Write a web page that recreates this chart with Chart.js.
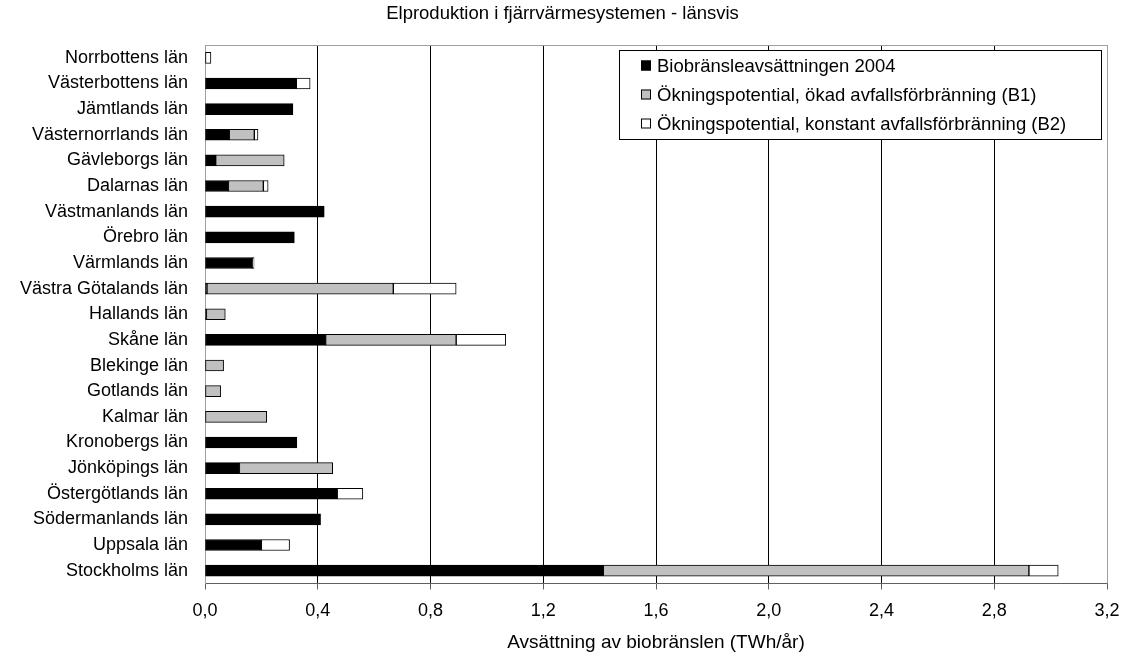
<!DOCTYPE html>
<html lang="sv">
  <head>
    <meta charset="UTF-8" />
    <title>Elproduktion i fjärrvärmesystemen - länsvis</title>
    <script src="https://cdn.jsdelivr.net/npm/chart.js"></script>
    <style>
      html, body { margin: 0; padding: 0; background: #fff; }
      #wrap { width: 1125px; height: 654px; }
    </style>
  </head>
  <body>
    <div id="wrap"><canvas id="elChart" width="1125" height="654"></canvas></div>

    <script>
      // Län, uppifrån och ned
      const lan = [
        "Norrbottens län", "Västerbottens län", "Jämtlands län", "Västernorrlands län",
        "Gävleborgs län", "Dalarnas län", "Västmanlands län", "Örebro län",
        "Värmlands län", "Västra Götalands län", "Hallands län", "Skåne län",
        "Blekinge län", "Gotlands län", "Kalmar län", "Kronobergs län",
        "Jönköpings län", "Östergötlands län", "Södermanlands län", "Uppsala län",
        "Stockholms län",
      ];

      // TWh/år
      const bio2004 = [0, 0.324, 0.312, 0.086, 0.038, 0.083, 0.423, 0.317, 0.168, 0.007, 0.005,
        0.428, 0, 0, 0, 0.326, 0.122, 0.469, 0.41, 0.2, 1.413];
      const okningB1 = [0, 0, 0, 0.089, 0.243, 0.124, 0, 0, 0, 0.661, 0.067,
        0.463, 0.066, 0.056, 0.219, 0, 0.331, 0, 0, 0, 1.51];
      const okningB2 = [0.021, 0.049, 0, 0.013, 0, 0.017, 0, 0, 0.006, 0.223, 0,
        0.176, 0, 0, 0, 0, 0, 0.091, 0, 0.1, 0.104];

      const serieNamn = [
        "Biobränsleavsättningen 2004",
        "Ökningspotential, ökad avfallsförbränning (B1)",
        "Ökningspotential, konstant avfallsförbränning (B2)",
      ];
      const xTickLabels = ["0,0", "0,4", "0,8", "1,2", "1,6", "2,0", "2,4", "2,8", "3,2"];

      const FONT = "'Liberation Sans', Arial, sans-serif";

      // ram runt ritytan + legend inne i diagrammet
      const ramOchLegend = {
        id: "ramOchLegend",
        beforeDatasetsDraw(chart) {
          const { ctx, chartArea: a } = chart;
          ctx.save();
          ctx.strokeStyle = "#a0a0a0";
          ctx.lineWidth = 1;
          ctx.beginPath();
          ctx.moveTo(a.left, a.top + 0.5);
          ctx.lineTo(a.right + 0.5, a.top + 0.5);
          ctx.lineTo(a.right + 0.5, a.bottom);
          ctx.stroke();
          ctx.restore();
        },
        afterDraw(chart) {
          const ctx = chart.ctx;
          ctx.save();
          ctx.fillStyle = "#fff";
          ctx.fillRect(619.5, 50.5, 482, 89);
          ctx.strokeStyle = "#000";
          ctx.lineWidth = 1;
          ctx.strokeRect(619.5, 50.5, 482, 89);
          ctx.font = "18.5px " + FONT;
          ctx.textBaseline = "middle";
          const rader = [65.5, 94.5, 123.5];
          chart.data.datasets.forEach((ds, i) => {
            ctx.fillStyle = ds.backgroundColor;
            ctx.fillRect(641, rader[i] - 5, 10, 10);
            ctx.strokeStyle = "#000";
            ctx.strokeRect(641.5, rader[i] - 4.5, 9, 9);
            ctx.fillStyle = "#000";
            ctx.fillText(ds.label, 657, rader[i] + 1);
          });
          ctx.restore();
        },
      };

      const ctx = document.getElementById("elChart").getContext("2d");
      const elChart = new Chart(ctx, {
        type: "bar",
        data: {
          labels: lan,
          datasets: [
            { label: serieNamn[0], data: bio2004, backgroundColor: "#000000" },
            { label: serieNamn[1], data: okningB1, backgroundColor: "#c0c0c0" },
            { label: serieNamn[2], data: okningB2, backgroundColor: "#ffffff" },
          ].map((d) => ({
            ...d,
            borderColor: "#000",
            borderWidth: 1,
            borderSkipped: false,
            barThickness: 11,
          })),
        },
        options: {
          indexAxis: "y",
          responsive: false,
          animation: false,
          layout: { padding: { top: 0, right: 18, bottom: 0, left: 18 } },
          plugins: {
            legend: { display: false },
            tooltip: { enabled: false },
            title: {
              display: true,
              text: "Elproduktion i fjärrvärmesystemen - länsvis",
              color: "#000",
              font: { family: FONT, size: 18.5, weight: "normal" },
              padding: { top: 3, bottom: 19.8 },
            },
          },
          scales: {
            x: {
              stacked: true,
              min: 0,
              max: 3.2,
              afterFit: (s) => {
                s.height = 70.5;
                s.paddingRight = 10;
                s.paddingLeft = 10;
              },
              ticks: {
                stepSize: 0.4,
                color: "#000",
                padding: 11,
                font: { family: FONT, size: 18 },
                callback: (v, i) => xTickLabels[i],
              },
              grid: {
                color: (c) => (c.index === 0 || c.index === 8 ? "#a0a0a0" : "#000"),
                tickColor: "#606060",
                tickLength: 6,
              },
              border: { color: "#606060" },
              title: {
                display: true,
                text: "Avsättning av biobränslen (TWh/år)",
                color: "#000",
                font: { family: FONT, size: 19 },
                padding: { top: 0, bottom: 0 },
              },
            },
            y: {
              stacked: true,
              afterFit: (s) => { s.width = 187; },
              ticks: {
                color: "#000",
                autoSkip: false,
                padding: 17,
                font: { family: FONT, size: 18 },
              },
              grid: { display: false, drawTicks: false },
              border: { color: "#a0a0a0" },
            },
          },
        },
        plugins: [ramOchLegend],
      });
    </script>
  </body>
</html>
